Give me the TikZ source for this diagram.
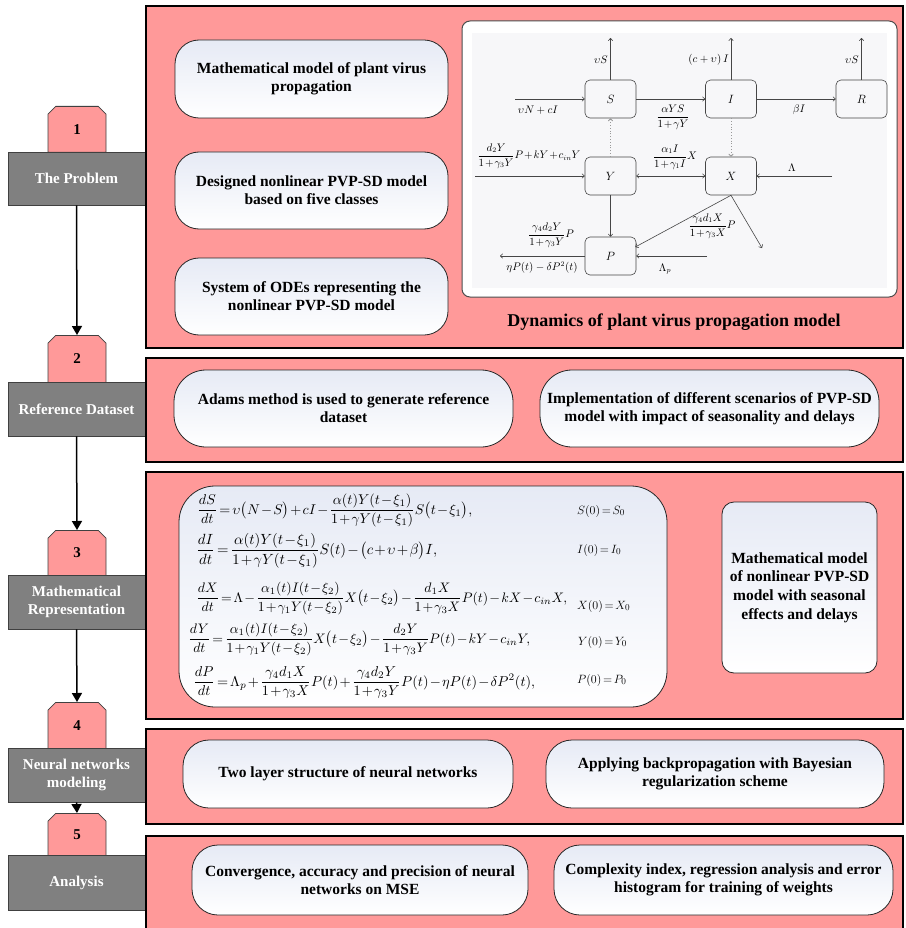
\documentclass[tikz,border=0pt]{standalone}
\usepackage{amsmath}
\usepackage{graphicx}
\usepackage{fontspec}
\setmainfont{Liberation Serif}
\usetikzlibrary{shapes.misc,arrows.meta,calc}
\definecolor{pnk}{RGB}{255,153,153}
\definecolor{grayb}{RGB}{128,128,128}
\definecolor{boxtop}{RGB}{230,234,245}
\definecolor{insetbg}{RGB}{247,247,249}
\definecolor{lineg}{RGB}{70,70,70}
\newcommand{\tightmath}{\medmuskip=1.5mu plus 1mu\thickmuskip=2.5mu plus 1mu\thinmuskip=1.5mu}
\tikzset{
 panel/.style={draw=black, line width=2.6pt, fill=pnk},
 tabbox/.style={chamfered rectangle, chamfered rectangle corners={north west,north east}, chamfered rectangle xsep=4pt, chamfered rectangle ysep=4pt, draw=black!75, fill=pnk, line width=0.8pt, minimum width=58pt, inner sep=0pt, anchor=north, font=\bfseries\fontsize{15}{18}\selectfont},
 graybox/.style={draw=black!75, fill=grayb, line width=0.8pt, text=white, align=center, minimum width=137pt, inner sep=0pt, font=\bfseries\fontsize{15}{18}\selectfont},
 rbox/.style={draw=black!85, line width=0.8pt, top color=boxtop, bottom color=white, align=center, inner sep=0pt, font=\bfseries\fontsize{15.5}{18}\selectfont},
 flowarrow/.style={draw=black, line width=1.5pt, -{Triangle[length=9pt,width=10pt]}},
 cnode/.style={draw=lineg, rounded corners=5pt, minimum width=51pt, minimum height=38pt, fill=insetbg, line width=0.6pt, font=\fontsize{12}{14}\selectfont, inner sep=0pt},
 flow/.style={draw=lineg, line width=0.6pt, -{To[length=3pt,width=5pt]}},
 dflow/.style={draw=black!40, line width=0.8pt, dotted, -{To[length=3pt,width=5pt]}},
 lbl/.style={font=\fontsize{10.5}{12}\selectfont, inner sep=0pt},
 flbl/.style={font=\fontsize{10.5}{12}\selectfont, inner sep=0pt},
 eqn/.style={anchor=base west, inner sep=0pt},
 ic/.style={anchor=base west, inner sep=0pt, font=\fontsize{12.5}{15}\selectfont},
}
\begin{document}
\begin{tikzpicture}[x=1pt,y=-1pt]
\clip (0,0) rectangle (905,928);
\fill[white] (0,0) rectangle (905,928);

% left column: tabs and gray boxes
\node[tabbox, minimum height=46pt] (t1) at (77,106) {1};
\node[graybox, minimum height=53pt] (g1) at (76.5,178.5) {The Problem};
\node[tabbox, minimum height=47pt] (t2) at (77,335) {2};
\node[graybox, minimum height=54pt] (g2) at (76.5,409) {Reference Dataset};
\node[tabbox, minimum height=45pt] (t3) at (77,530) {3};
\node[graybox, minimum height=54pt] (g3) at (76.5,602) {Mathematical\\Representation};
\node[tabbox, minimum height=46pt] (t4) at (77,702) {4};
\node[graybox, minimum height=54pt] (g4) at (76.5,775) {Neural networks\\modeling};
\node[tabbox, minimum height=42pt] (t5) at (77,813) {5};
\node[graybox, minimum height=55pt] (g5) at (76.5,882.5) {Analysis};

\draw[flowarrow] (g1.south) -- (t2.north);
\draw[flowarrow] (g2.south) -- (t3.north);
\draw[flowarrow] (g3.south) -- (t4.north);
\draw[flowarrow] (g4.south) -- (t5.north);

% panels
\path[panel] (146,6) rectangle (903,348);
\path[panel] (146,358) rectangle (903,462);
\path[panel] (146,472) rectangle (903,719);
\path[panel] (146,729) rectangle (903,824);
\path[panel] (146,836) rectangle (903,935);

% panel 1 boxes
\node[rbox, rounded corners=24pt, minimum width=273pt, minimum height=78pt] (b11) at (311.5,79) {Mathematical model of plant virus\\propagation};
\node[rbox, rounded corners=24pt, minimum width=273pt, minimum height=77pt] (b12) at (311.5,190.5) {Designed nonlinear PVP-SD model\\based on five classes};
\node[rbox, rounded corners=24pt, minimum width=273pt, minimum height=77pt] (b13) at (311.5,296.5) {System of ODEs representing the\\nonlinear PVP-SD model};

% inset diagram
\path[draw=black!70, fill=white, rounded corners=8pt, line width=1pt] (462,21) rectangle (897,297);
\fill[insetbg] (472,33) rectangle (887,288);
\node[cnode] (S) at (610.5,99) {$S$};
\node[cnode] (I) at (731,99) {$I$};
\node[cnode] (R) at (861.5,99) {$R$};
\node[cnode] (Y) at (610.5,176) {$Y$};
\node[cnode] (X) at (731,176) {$X$};
\node[cnode] (P) at (610.5,256) {$P$};
\coordinate (sup) at (610.5,38);
\coordinate (iup) at (731,38);
\coordinate (rup) at (861.5,38);
\coordinate (sin) at (515,99);
\coordinate (yin) at (475,176);
\coordinate (xin) at (832,176);
\coordinate (xout) at (762,248);
\coordinate (pout) at (500,256);
\coordinate (pin) at (707,256);
\draw[flow] (S.north) -- (sup);
\draw[flow] (I.north) -- (iup);
\draw[flow] (R.north) -- (rup);
\draw[flow] (sin) -- (S.west);
\draw[flow] (S.east) -- (I.west);
\draw[flow] (I.east) -- (R.west);
\draw[dflow] (Y.north) -- (S.south);
\draw[dflow] (I.south) -- (X.north);
\draw[flow] (yin) -- (Y.west);
\draw[draw=lineg, line width=0.6pt, {To[length=3pt,width=5pt]}-{To[length=3pt,width=5pt]}] (Y.east) -- (X.west);
\draw[flow] (xin) -- (X.east);
\draw[flow] (Y.south) -- (P.north);
\draw[flow] (X.south) -- ($(P.east)+(-1,-9)$);
\draw[flow] (X.south) -- (xout);
\draw[flow] (P.west) -- (pout);
\draw[flow] (pin) -- (P.east);
\node[lbl, anchor=east] (l1) at (608,60) {$\upsilon S$};
\node[lbl, anchor=east] (l2) at (729,60) {$(c+\upsilon)\,I$};
\node[lbl, anchor=east] (l3) at (859,60) {$\upsilon S$};
\node[lbl] (l4) at (538,110) {$\upsilon N+cI$};
\node[flbl] (l5) at (673,117) {$\tightmath\displaystyle\frac{\alpha YS}{1+\gamma Y}$};
\node[lbl] (l6) at (799,110) {$\beta I$};
\node[flbl] (l7) at (529,156) {$\tightmath\displaystyle\frac{d_2Y}{1+\gamma_3Y}P+kY+c_{in}Y$};
\node[flbl] (l8) at (675,157) {$\tightmath\displaystyle\frac{\alpha_1I}{1+\gamma_1I}X$};
\node[lbl] (l9) at (792,168) {$\Lambda$};
\node[flbl] (l10) at (712,226) {$\tightmath\displaystyle\frac{\gamma_4d_1X}{1+\gamma_3X}P$};
\node[flbl] (l11) at (551,235) {$\tightmath\displaystyle\frac{\gamma_4d_2Y}{1+\gamma_3Y}P$};
\node[lbl] (l12) at (542,268) {$\eta P(t)-\delta P^2(t)$};
\node[lbl] (l13) at (665,269) {$\Lambda_p$};
\node[font=\bfseries\fontsize{18}{20}\selectfont] (cap) at (674,322) {Dynamics of plant virus propagation model};

% panel 2
\node[rbox, rounded corners=32pt, minimum width=339pt, minimum height=77pt] (b21) at (343.5,408.5) {Adams method is used to generate reference\\dataset};
\node[rbox, rounded corners=32pt, minimum width=339pt, minimum height=77pt] (b22) at (709.5,408.5) {Implementation of different scenarios of PVP-SD\\model with impact of seasonality and delays};

% panel 3
\path[draw=black!85, line width=0.8pt, top color=boxtop, bottom color=white, rounded corners=36pt] (179,486) rectangle (667,707);
\node[eqn] (e1) at (197,514) {\resizebox{275pt}{!}{$\tightmath\displaystyle\frac{dS}{dt}=\upsilon\bigl(N-S\bigr)+cI-\frac{\alpha(t)Y(t-\xi_1)}{1+\gamma Y(t-\xi_1)}S\bigl(t-\xi_1\bigr),$}};
\node[eqn] (e2) at (196,554) {\resizebox{241pt}{!}{$\tightmath\displaystyle\frac{dI}{dt}=\frac{\alpha(t)Y(t-\xi_1)}{1+\gamma Y(t-\xi_1)}S(t)-\bigl(c+\upsilon+\beta\bigr)I,$}};
\node[eqn] (e3) at (196,602) {\resizebox{371pt}{!}{$\tightmath\displaystyle\frac{dX}{dt}=\Lambda-\frac{\alpha_1(t)I(t-\xi_2)}{1+\gamma_1Y(t-\xi_2)}X\bigl(t-\xi_2\bigr)-\frac{d_1X}{1+\gamma_3X}P(t)-kX-c_{in}X,$}};
\node[eqn] (e4) at (188,643) {\resizebox{342pt}{!}{$\tightmath\displaystyle\frac{dY}{dt}=\frac{\alpha_1(t)I(t-\xi_2)}{1+\gamma_1Y(t-\xi_2)}X\bigl(t-\xi_2\bigr)-\frac{d_2Y}{1+\gamma_3Y}P(t)-kY-c_{in}Y,$}};
\node[eqn] (e5) at (193,686) {\resizebox{342pt}{!}{$\tightmath\displaystyle\frac{dP}{dt}=\Lambda_p+\frac{\gamma_4d_1X}{1+\gamma_3X}P(t)+\frac{\gamma_4d_2Y}{1+\gamma_3Y}P(t)-\eta P(t)-\delta P^2(t),$}};
\node[ic] (c1) at (577,514) {$\tightmath S(0)=S_0$};
\node[ic] (c2) at (577,553) {$\tightmath I(0)=I_0$};
\node[ic] (c3) at (577,609) {$\tightmath X(0)=X_0$};
\node[ic] (c4) at (578,645) {$\tightmath Y(0)=Y_0$};
\node[ic] (c5) at (577,683) {$\tightmath P(0)=P_0$};
\node[rbox, rounded corners=12pt, minimum width=155pt, minimum height=171pt, font=\bfseries\fontsize{15.5}{18.7}\selectfont] (b32) at (799.5,587.5) {Mathematical model\\of nonlinear PVP-SD\\model with seasonal\\effects and delays};

% panel 4
\node[rbox, rounded corners=26pt, minimum width=330pt, minimum height=68pt] (b41) at (348,774) {Two layer structure of neural networks};
\node[rbox, rounded corners=26pt, minimum width=338pt, minimum height=68pt] (b42) at (715,774) {Applying backpropagation with Bayesian\\regularization scheme};

% panel 5
\node[rbox, rounded corners=26pt, minimum width=336pt, minimum height=70pt] (b51) at (360,880) {Convergence, accuracy and precision of neural\\networks on MSE};
\node[rbox, rounded corners=26pt, minimum width=339pt, minimum height=70pt] (b52) at (723.5,880) {Complexity index, regression analysis and error\\histogram for training of weights};
\end{tikzpicture}
\end{document}
